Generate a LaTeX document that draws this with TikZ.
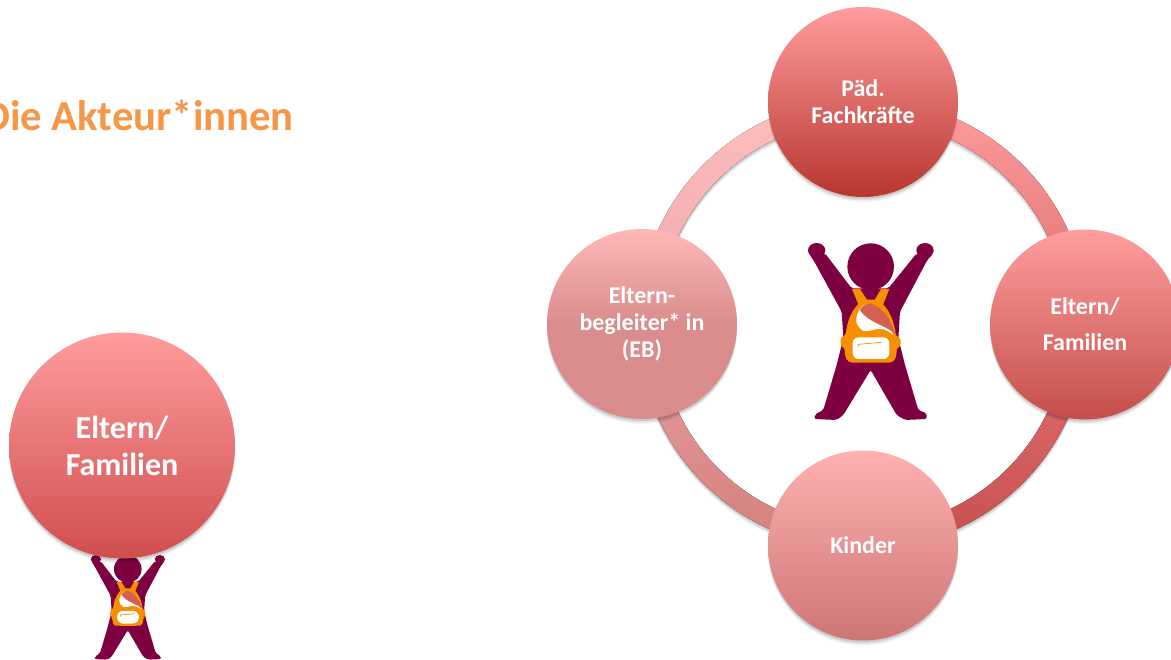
\documentclass[tikz,border=0pt]{standalone}
\usepackage{fontspec}
\setmainfont{Carlito}
\usetikzlibrary{shadows}
\definecolor{kidbody}{HTML}{7F0041}
\definecolor{packorange}{HTML}{F78F00}
\definecolor{packsalmon}{HTML}{D4604F}
\definecolor{titleorange}{HTML}{F79646}
\tikzset{
  softshadow/.style={
    drop shadow={shadow xshift=0pt, shadow yshift=-5pt, fill=black, opacity=.05},
    drop shadow={shadow xshift=0pt, shadow yshift=-3.5pt, fill=black, opacity=.07},
    drop shadow={shadow xshift=0pt, shadow yshift=-2pt, fill=black, opacity=.10}},
  ball/.style={circle, minimum size=190pt, inner sep=0pt, align=center, text=white,
    font=\fontsize{24}{27}\selectfont\bfseries, softshadow},
  kid/.pic={
    \fill[kidbody, rounded corners=2pt] (88,88)--(103,110)--(185,260)--(190,340)--(170,420)--(130,555)
      --(105,568)--(103,582)--(170,585)--(190,570)--(272,435)--(350,570)--(375,585)--(440,582)
      --(440,565)--(415,555)--(375,420)--(355,340)--(360,260)--(442,105)--(458,88)--(410,85)
      --(325,190)--(215,190)--(135,85)--cycle;
    \fill[kidbody] (110,76) ellipse (26 and 22);
    \fill[kidbody] (435,76) ellipse (26 and 22);
    \fill[kidbody] (272,125) circle (70);
    % backpack
    \fill[packorange] (216,192)--(240,192)--(268,235)--(240,250)--cycle;
    \fill[packorange] (328,192)--(303,192)--(278,235)--(305,250)--cycle;
    \fill[packorange, rounded corners=3pt] (182,335)--(197,332)
      .. controls (205,260) and (240,222) .. (272,224)
      .. controls (310,224) and (340,270) .. (348,335)--(362,338)--(362,365)--(350,367)
      .. controls (350,395) and (345,412) .. (320,413)--(225,413)
      .. controls (200,412) and (194,395) .. (194,367)--(182,365)--cycle;
    \fill[white] (240,252) .. controls (225,275) and (222,300) .. (250,318)
      .. controls (280,322) and (300,295) .. (340,330)
      .. controls (320,280) and (290,240) .. (262,238) .. controls (255,238) and (245,245) .. (240,252);
    \fill[packsalmon] (240,255) .. controls (250,240) and (262,235) .. (272,236)
      .. controls (305,245) and (335,285) .. (345,328)
      .. controls (320,300) and (265,295) .. (240,255);
    \fill[white, rounded corners=6pt] (218,337) rectangle (328,402);
    \draw[packorange, line width=.7pt] (235,366)--(235,358)--(305,352);
  }
}
\begin{document}
\begin{tikzpicture}[x=1pt, y=-1pt]
\useasboundingbox (0,0) rectangle (1171,660);

\node[anchor=west, inner sep=0pt, text=titleorange, font=\fontsize{42.7}{48}\selectfont\bfseries] (title) at (-17,115) {Die Akteur*innen};

% ring
\fill[top color={rgb,255:red,255;green,190;blue,190}, bottom color={rgb,255:red,236;green,168;blue,168}, softshadow]
  plot[samples=40, domain=180:270, variable=\x] ({863+225.5*cos(\x)}, {324+225.5*sin(\x)})
  -- plot[samples=40, domain=270:180, variable=\x] ({863+204.5*cos(\x)}, {324+204.5*sin(\x)}) -- cycle;
\fill[top color={rgb,255:red,255;green,156;blue,156}, bottom color={rgb,255:red,222;green,112;blue,112}, softshadow]
  plot[samples=40, domain=270:360, variable=\x] ({863+225.5*cos(\x)}, {324+225.5*sin(\x)})
  -- plot[samples=40, domain=360:270, variable=\x] ({863+204.5*cos(\x)}, {324+204.5*sin(\x)}) -- cycle;
\fill[top color={rgb,255:red,226;green,116;blue,116}, bottom color={rgb,255:red,200;green,78;blue,78}, softshadow]
  plot[samples=40, domain=0:90, variable=\x] ({863+225.5*cos(\x)}, {324+225.5*sin(\x)})
  -- plot[samples=40, domain=90:0, variable=\x] ({863+204.5*cos(\x)}, {324+204.5*sin(\x)}) -- cycle;
\fill[top color={rgb,255:red,232;green,158;blue,158}, bottom color={rgb,255:red,212;green,128;blue,126}, softshadow]
  plot[samples=40, domain=90:180, variable=\x] ({863+225.5*cos(\x)}, {324+225.5*sin(\x)})
  -- plot[samples=40, domain=180:90, variable=\x] ({863+204.5*cos(\x)}, {324+204.5*sin(\x)}) -- cycle;

\node[ball, top color={rgb,255:red,255;green,156;blue,156}, bottom color={rgb,255:red,184;green,54;blue,46}] (paed) at (863,102) {P\"ad.\\Fachkr\"afte};
\node[ball, top color={rgb,255:red,255;green,158;blue,158}, bottom color={rgb,255:red,196;green,78;blue,74}, font=\fontsize{24}{36}\selectfont\bfseries] (eltern) at (1085,324.5) {Eltern/\\Familien};
\node[ball, top color={rgb,255:red,255;green,176;blue,176}, bottom color={rgb,255:red,206;green,118;blue,118}] (kinder) at (863,545.5) {Kinder};
\node[ball, top color={rgb,255:red,255;green,184;blue,184}, bottom color={rgb,255:red,218;green,140;blue,140}, middle color={rgb,255:red,218;green,140;blue,140}] (begleiter) at (642,324) {Eltern-\\begleiter* in\\(EB)};

\pic[scale=1/3] at (780,225) {kid};

\pic[scale=0.197] at (74.2,544.4) {kid};
\node[ball, minimum size=226pt, top color={rgb,255:red,255;green,156;blue,156}, bottom color={rgb,255:red,208;green,78;blue,78}, font=\fontsize{32}{37}\selectfont\bfseries] (familien) at (122,445.5) {Eltern/\\Familien};

\end{tikzpicture}
\end{document}
